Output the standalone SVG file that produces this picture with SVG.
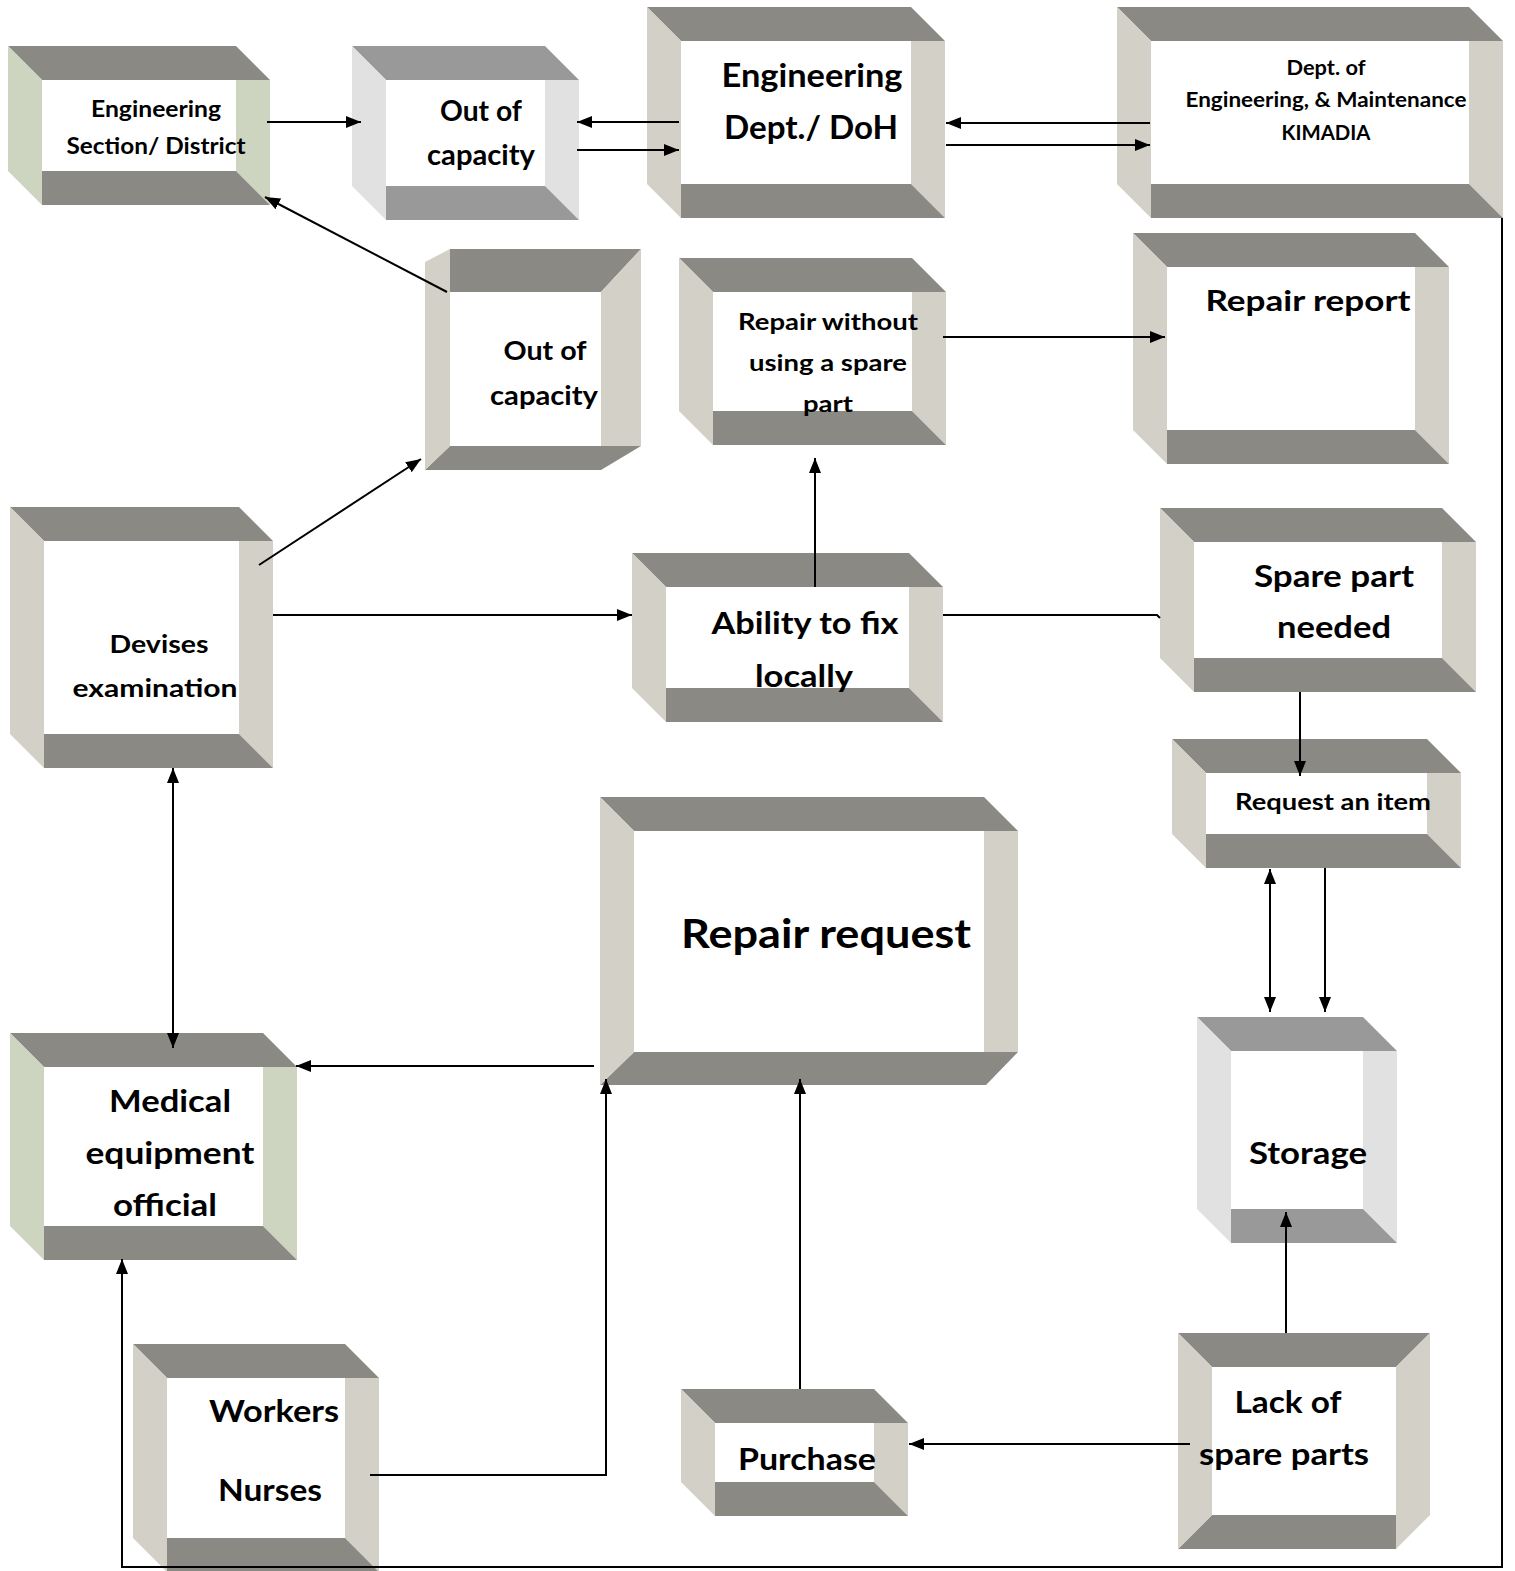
<svg xmlns="http://www.w3.org/2000/svg" width="1515" height="1571" viewBox="0 0 1515 1571">
  <defs>
    <style>
      .dk { fill: #8a8983; }
      .lt { fill: #d3d1c7; }
      .gn { fill: #cdd4c0; }
      .dk2 { fill: #999999; }
      .lt2 { fill: #e1e1e1; }
      .t { font-family: Lato, "Liberation Sans", sans-serif; font-weight: 700; text-anchor: middle; fill: #000; }
      .c { fill: none; stroke: #000; stroke-width: 2; }
      .ce { marker-end: url(#ah); }
      .cb { marker-start: url(#ah); marker-end: url(#ah); }
    </style>
    <marker id="ah" viewBox="0 0 15 12" refX="15" refY="6" markerWidth="15" markerHeight="12" markerUnits="userSpaceOnUse" orient="auto-start-reverse">
      <path d="M0,0 L15,6 L0,12 z" fill="#000"/>
    </marker>
  </defs>

  <rect x="0" y="0" width="1515" height="1571" fill="#fff"/>

  <!-- Engineering Section / District -->
  <g id="eng-section">
    <polygon class="dk" points="8,46 236,46 270,80 42,80"/>
    <polygon class="gn" points="236,80 270,80 270,205 236,171"/>
    <polygon class="dk" points="42,171 236,171 270,205 42,205"/>
    <polygon class="gn" points="8,46 42,80 42,205 8,171"/>
    <text class="t" x="156" y="117" font-size="23" textLength="130" lengthAdjust="spacingAndGlyphs">Engineering</text>
    <text class="t" x="156" y="154" font-size="23" textLength="179" lengthAdjust="spacingAndGlyphs">Section/ District</text>
  </g>

  <!-- Out of capacity (top row) -->
  <g id="out-capacity-top">
    <polygon class="dk2" points="352,46 545,46 579,80 386,80"/>
    <polygon class="lt2" points="545,80 579,80 579,220 545,186"/>
    <polygon class="dk2" points="386,186 545,186 579,220 386,220"/>
    <polygon class="lt2" points="352,46 386,80 386,220 352,186"/>
    <text class="t" x="481" y="121" font-size="28" textLength="82" lengthAdjust="spacingAndGlyphs">Out of</text>
    <text class="t" x="481" y="165" font-size="28" textLength="108" lengthAdjust="spacingAndGlyphs">capacity</text>
  </g>

  <!-- Engineering Dept. / DoH -->
  <g id="eng-dept">
    <polygon class="dk" points="647,7 911,7 945,41 681,41"/>
    <polygon class="lt" points="911,41 945,41 945,218 911,184"/>
    <polygon class="dk" points="681,184 911,184 945,218 681,218"/>
    <polygon class="lt" points="647,7 681,41 681,218 647,184"/>
    <text class="t" x="812" y="87" font-size="32" textLength="181" lengthAdjust="spacingAndGlyphs">Engineering</text>
    <text class="t" x="811" y="139" font-size="32" textLength="174" lengthAdjust="spacingAndGlyphs">Dept./ DoH</text>
  </g>

  <!-- Dept. of Engineering & Maintenance, KIMADIA -->
  <g id="kimadia">
    <polygon class="dk" points="1117,7 1469,7 1503,41 1151,41"/>
    <polygon class="lt" points="1469,41 1503,41 1503,218 1469,184"/>
    <polygon class="dk" points="1151,184 1469,184 1503,218 1151,218"/>
    <polygon class="lt" points="1117,7 1151,41 1151,218 1117,184"/>
    <text class="t" x="1326" y="75" font-size="20" textLength="79" lengthAdjust="spacingAndGlyphs">Dept. of</text>
    <text class="t" x="1326" y="107" font-size="20" textLength="281" lengthAdjust="spacingAndGlyphs">Engineering, &amp; Maintenance</text>
    <text class="t" x="1326" y="140" font-size="20" textLength="89" lengthAdjust="spacingAndGlyphs">KIMADIA</text>
  </g>

  <!-- Out of capacity (middle) -->
  <g id="out-capacity-mid">
    <polygon class="dk" points="450,249 641,249 601,292 450,292"/>
    <polygon class="lt" points="601,292 641,249 641,446 601,446"/>
    <polygon class="dk" points="425,470 450,446 641,446 601,470"/>
    <polygon class="lt" points="425,262 450,249 450,446 425,470"/>
    <text class="t" x="545" y="360" font-size="27" textLength="83" lengthAdjust="spacingAndGlyphs">Out of</text>
    <text class="t" x="544" y="405" font-size="27" textLength="108" lengthAdjust="spacingAndGlyphs">capacity</text>
  </g>

  <!-- Repair without using a spare part -->
  <g id="repair-without">
    <polygon class="dk" points="679,258 912,258 946,292 713,292"/>
    <polygon class="lt" points="912,292 946,292 946,445 912,411"/>
    <polygon class="dk" points="713,411 912,411 946,445 713,445"/>
    <polygon class="lt" points="679,258 713,292 713,445 679,411"/>
    <text class="t" x="828" y="330" font-size="22" textLength="180" lengthAdjust="spacingAndGlyphs">Repair without</text>
    <text class="t" x="828" y="371" font-size="22" textLength="158" lengthAdjust="spacingAndGlyphs">using a spare</text>
    <text class="t" x="828" y="412" font-size="22" textLength="50" lengthAdjust="spacingAndGlyphs">part</text>
  </g>

  <!-- Repair report -->
  <g id="repair-report">
    <polygon class="dk" points="1133,233 1415,233 1449,267 1167,267"/>
    <polygon class="lt" points="1415,267 1449,267 1449,464 1415,430"/>
    <polygon class="dk" points="1167,430 1415,430 1449,464 1167,464"/>
    <polygon class="lt" points="1133,233 1167,267 1167,464 1133,430"/>
    <text class="t" x="1308" y="311" font-size="28" textLength="205" lengthAdjust="spacingAndGlyphs">Repair report</text>
  </g>

  <!-- Devises examination -->
  <g id="devises">
    <polygon class="dk" points="10,507 239,507 273,541 44,541"/>
    <polygon class="lt" points="239,541 273,541 273,768 239,734"/>
    <polygon class="dk" points="44,734 239,734 273,768 44,768"/>
    <polygon class="lt" points="10,507 44,541 44,768 10,734"/>
    <text class="t" x="159" y="653" font-size="25" textLength="99" lengthAdjust="spacingAndGlyphs">Devises</text>
    <text class="t" x="155" y="697" font-size="25" textLength="165" lengthAdjust="spacingAndGlyphs">examination</text>
  </g>

  <!-- Ability to fix locally -->
  <g id="ability">
    <polygon class="dk" points="632,553 909,553 943,587 666,587"/>
    <polygon class="lt" points="909,587 943,587 943,722 909,688"/>
    <polygon class="dk" points="666,688 909,688 943,722 666,722"/>
    <polygon class="lt" points="632,553 666,587 666,722 632,688"/>
    <text class="t" x="805" y="634" font-size="31" textLength="187" lengthAdjust="spacingAndGlyphs">Ability to fix</text>
    <text class="t" x="804" y="687" font-size="31" textLength="98" lengthAdjust="spacingAndGlyphs">locally</text>
  </g>

  <!-- Spare part needed -->
  <g id="spare-needed">
    <polygon class="dk" points="1160,508 1442,508 1476,542 1194,542"/>
    <polygon class="lt" points="1442,542 1476,542 1476,692 1442,658"/>
    <polygon class="dk" points="1194,658 1442,658 1476,692 1194,692"/>
    <polygon class="lt" points="1160,508 1194,542 1194,692 1160,658"/>
    <text class="t" x="1334" y="587" font-size="30" textLength="160" lengthAdjust="spacingAndGlyphs">Spare part</text>
    <text class="t" x="1334" y="638" font-size="30" textLength="114" lengthAdjust="spacingAndGlyphs">needed</text>
  </g>

  <!-- Request an item -->
  <g id="request-item">
    <polygon class="dk" points="1172,739 1427,739 1461,773 1206,773"/>
    <polygon class="lt" points="1427,773 1461,773 1461,868 1427,834"/>
    <polygon class="dk" points="1206,834 1427,834 1461,868 1206,868"/>
    <polygon class="lt" points="1172,739 1206,773 1206,868 1172,834"/>
    <text class="t" x="1333" y="810" font-size="22.5" textLength="196" lengthAdjust="spacingAndGlyphs">Request an item</text>
  </g>

  <!-- Repair request -->
  <g id="repair-request">
    <polygon class="dk" points="600,797 984,797 1018,831 634,831"/>
    <polygon class="lt" points="984,831 1018,831 1018,1052 984,1052"/>
    <polygon class="dk" points="634,1052 1018,1052 986,1085 600,1085"/>
    <polygon class="lt" points="600,797 634,831 634,1052 600,1085"/>
    <text class="t" x="826" y="948" font-size="40" textLength="290" lengthAdjust="spacingAndGlyphs">Repair request</text>
  </g>

  <!-- Medical equipment official -->
  <g id="medical-official">
    <polygon class="dk" points="10,1033 263,1033 297,1067 44,1067"/>
    <polygon class="gn" points="263,1067 297,1067 297,1260 263,1226"/>
    <polygon class="dk" points="44,1226 263,1226 297,1260 44,1260"/>
    <polygon class="gn" points="10,1033 44,1067 44,1260 10,1226"/>
    <text class="t" x="170" y="1112" font-size="30" textLength="122" lengthAdjust="spacingAndGlyphs">Medical</text>
    <text class="t" x="170" y="1164" font-size="30" textLength="169" lengthAdjust="spacingAndGlyphs">equipment</text>
    <text class="t" x="165" y="1216" font-size="30" textLength="104" lengthAdjust="spacingAndGlyphs">official</text>
  </g>

  <!-- Storage -->
  <g id="storage">
    <polygon class="dk2" points="1197,1017 1363,1017 1397,1051 1231,1051"/>
    <polygon class="lt2" points="1363,1051 1397,1051 1397,1243 1363,1209"/>
    <polygon class="dk2" points="1231,1209 1363,1209 1397,1243 1231,1243"/>
    <polygon class="lt2" points="1197,1017 1231,1051 1231,1243 1197,1209"/>
    <text class="t" x="1308" y="1164" font-size="30" textLength="118" lengthAdjust="spacingAndGlyphs">Storage</text>
  </g>

  <!-- Workers / Nurses -->
  <g id="workers-nurses">
    <polygon class="dk" points="133,1344 345,1344 379,1378 167,1378"/>
    <polygon class="lt" points="345,1378 379,1378 379,1572 345,1538"/>
    <polygon class="dk" points="167,1538 345,1538 379,1572 167,1572"/>
    <polygon class="lt" points="133,1344 167,1378 167,1572 133,1538"/>
    <text class="t" x="274" y="1422" font-size="30" textLength="130" lengthAdjust="spacingAndGlyphs">Workers</text>
    <text class="t" x="270" y="1501" font-size="30" textLength="104" lengthAdjust="spacingAndGlyphs">Nurses</text>
  </g>

  <!-- Purchase -->
  <g id="purchase">
    <polygon class="dk" points="681,1389 874,1389 908,1423 715,1423"/>
    <polygon class="lt" points="874,1423 908,1423 908,1516 874,1482"/>
    <polygon class="dk" points="715,1482 874,1482 908,1516 715,1516"/>
    <polygon class="lt" points="681,1389 715,1423 715,1516 681,1482"/>
    <text class="t" x="807" y="1470" font-size="30" textLength="138" lengthAdjust="spacingAndGlyphs">Purchase</text>
  </g>

  <!-- Lack of spare parts -->
  <g id="lack-spare">
    <polygon class="dk" points="1178,1333 1430,1333 1396,1367 1212,1367"/>
    <polygon class="lt" points="1396,1367 1430,1333 1430,1515 1396,1549"/>
    <polygon class="dk" points="1178,1549 1212,1515 1396,1515 1396,1549"/>
    <polygon class="lt" points="1178,1333 1212,1367 1212,1515 1178,1549"/>
    <text class="t" x="1288" y="1413" font-size="30" textLength="107" lengthAdjust="spacingAndGlyphs">Lack of</text>
    <text class="t" x="1284" y="1465" font-size="30" textLength="170" lengthAdjust="spacingAndGlyphs">spare parts</text>
  </g>

  <!-- Connectors -->
  <g id="connectors">
    <path class="c ce" d="M267,122 H361"/>
    <path class="c ce" d="M679,122 H577"/>
    <path class="c ce" d="M577,150 H679"/>
    <path class="c ce" d="M1150,123 H946"/>
    <path class="c ce" d="M946,145 H1150"/>
    <path class="c ce" d="M447,292 L265,197"/>
    <path class="c ce" d="M259,565 L421,459"/>
    <path class="c ce" d="M273,615 H632"/>
    <path class="c ce" d="M815,587 V458"/>
    <path class="c ce" d="M943,337 H1165"/>
    <path class="c" d="M943,615 H1157 L1160,618"/>
    <path class="c ce" d="M1300,692 V776"/>
    <path class="c cb" d="M1270,869 V1012"/>
    <path class="c ce" d="M1325,868 V1012"/>
    <path class="c ce" d="M1286,1333 V1212"/>
    <path class="c ce" d="M1190,1444 H909"/>
    <path class="c ce" d="M800,1389 V1079"/>
    <path class="c ce" d="M370,1475 H606 V1079"/>
    <path class="c ce" d="M594,1066 H296"/>
    <path class="c cb" d="M173,768 V1048"/>
    <path class="c ce" d="M1502,218 V1567 H122 V1259" stroke-width="3"/>
  </g>
</svg>
